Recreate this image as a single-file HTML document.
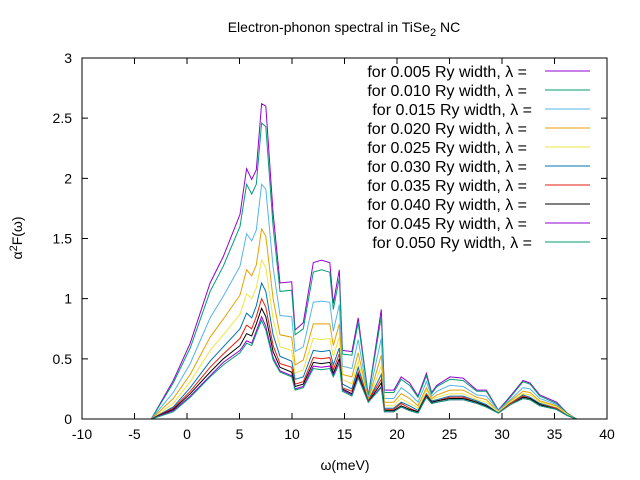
<!DOCTYPE html>
<html><head><meta charset="utf-8"><style>
html,body{margin:0;padding:0;background:#fff;}
svg{display:block;font-family:"Liberation Sans",sans-serif;}
</style></head><body>
<svg id="chart" width="640" height="480" viewBox="0 0 640 480" xmlns="http://www.w3.org/2000/svg">
<rect width="640" height="480" fill="#fff"/>
<text x="344" y="32" font-size="14" text-anchor="middle">Electron-phonon spectral in TiSe<tspan font-size="11" dy="4">2</tspan><tspan dy="-4"> NC</tspan></text>
<text x="345" y="470" font-size="14" text-anchor="middle">ω(meV)</text>
<text transform="translate(22,238) rotate(-90)" font-size="14" text-anchor="middle">α<tspan font-size="11" dy="-5">2</tspan><tspan dy="5">F(ω)</tspan></text>
<g id="axes"></g><g id="series"></g><g id="legend"></g>
<rect x="82" y="58" width="525" height="361" fill="none" stroke="#000" stroke-width="1"/>
</svg>
<script>
const xs=[-3.4,-1.3,0.3,2.2,3.46,5.05,5.68,6.16,6.6,7.1,7.5,8.2,8.86,9.97,10.3,11.08,12.03,12.8,13.6,13.93,14.5,14.8,15.7,16.3,17.27,18.5,18.8,19.7,20.4,21.2,22.0,22.8,23.3,23.8,25.05,26.3,27.6,28.5,29.65,30.8,32.0,32.67,33.6,35.2,36.2,37.1];
const s005=[0,.32,.63,1.13,1.35,1.70,2.08,1.99,2.07,2.62,2.60,1.71,1.13,1.14,.74,.80,1.30,1.32,1.30,.96,1.24,.57,.56,.84,.19,.91,.24,.24,.35,.30,.19,.38,.22,.28,.35,.34,.24,.24,.075,.19,.32,.30,.20,.14,.05,0];
const s010=[0,.30,.59,1.06,1.27,1.60,1.95,1.87,1.95,2.46,2.43,1.60,1.06,1.07,.70,.75,1.22,1.24,1.22,.91,1.17,.54,.53,.80,.19,.85,.22,.22,.33,.28,.18,.36,.21,.27,.33,.32,.23,.23,.07,.18,.31,.29,.19,.13,.05,0];
const s015=[0,.22,.46,.84,1.02,1.27,1.54,1.48,1.57,1.95,1.91,1.26,.86,.85,.56,.60,.97,.98,.97,.73,.95,.44,.42,.66,.17,.67,.17,.17,.26,.21,.14,.31,.19,.23,.28,.27,.20,.19,.07,.16,.26,.25,.17,.12,.04,0];
const s020=[0,.17,.37,.68,.83,1.03,1.24,1.19,1.28,1.58,1.52,1.00,.70,.68,.45,.49,.79,.79,.79,.61,.79,.37,.35,.55,.16,.53,.14,.14,.21,.17,.11,.26,.17,.20,.24,.24,.18,.16,.06,.15,.23,.22,.15,.11,.04,0];
const s025=[0,.13,.31,.57,.70,.87,1.04,1.00,1.09,1.32,1.26,.83,.60,.57,.38,.41,.67,.66,.67,.52,.68,.33,.29,.48,.15,.44,.11,.11,.17,.13,.09,.24,.16,.18,.21,.21,.16,.14,.06,.14,.21,.20,.14,.10,.04,0];
const s030=[0,.10,.26,.48,.60,.75,.88,.84,.94,1.13,1.06,.70,.52,.48,.33,.35,.57,.56,.57,.45,.59,.29,.25,.43,.15,.37,.09,.09,.14,.11,.07,.21,.15,.16,.19,.19,.15,.12,.05,.13,.20,.18,.13,.09,.03,0];
const s035=[0,.09,.23,.43,.54,.67,.78,.75,.85,1.00,.93,.61,.46,.43,.29,.31,.51,.50,.51,.41,.54,.26,.23,.39,.15,.33,.08,.08,.13,.09,.06,.20,.14,.15,.18,.18,.14,.11,.05,.13,.19,.17,.12,.09,.03,0];
const s040=[0,.08,.21,.39,.50,.61,.71,.69,.79,.92,.85,.56,.43,.39,.27,.29,.47,.46,.47,.38,.50,.25,.21,.37,.14,.30,.07,.07,.11,.08,.06,.19,.14,.15,.17,.17,.14,.11,.05,.12,.18,.17,.12,.08,.03,0];
const s045=[0,.07,.19,.36,.47,.57,.65,.63,.73,.85,.77,.51,.40,.36,.25,.27,.44,.43,.44,.36,.47,.24,.20,.35,.14,.27,.06,.06,.10,.07,.05,.18,.13,.14,.16,.16,.13,.10,.05,.12,.17,.16,.11,.08,.03,0];
const s050=[0,.06,.18,.35,.45,.55,.63,.61,.71,.82,.74,.49,.39,.35,.24,.26,.42,.41,.42,.35,.46,.23,.19,.34,.14,.26,.06,.06,.10,.07,.05,.18,.13,.14,.16,.16,.13,.10,.05,.12,.17,.16,.11,.08,.03,0];
const seriesNames=["0.005","0.010","0.015","0.020","0.025","0.030","0.035","0.040","0.045","0.050"];
const seriesVals=[s005,s010,s015,s020,s025,s030,s035,s040,s045,s050];
const xTicks=[-10,-5,0,5,10,15,20,25,30,35,40];
const yTicks=[0,0.5,1,1.5,2,2.5,3];
const yTickLabels=["0","0.5","1","1.5","2","2.5","3"];
const colors=["#9400d3","#009e73","#56b4e9","#e69f00","#f0e442","#0072b2","#e51e10","#000000","#9400d3","#009e73"];
const X0=82,X1=607,Y0=419,Y1=58;
const sx=v=>X0+(v+10)/50*(X1-X0);
const sy=v=>Y0-v/3*(Y0-Y1);
const NS="http://www.w3.org/2000/svg";
function mk(t,a){const e=document.createElementNS(NS,t);for(const k in a)e.setAttribute(k,a[k]);return e;}
const axes=document.getElementById('axes');
xTicks.forEach(t=>{
  const x=sx(t);
  const l=mk('path',{d:`M${x},${Y0}v-6M${x},${Y1}v6`,stroke:'#000','stroke-width':1});
  
  
  axes.appendChild(l);
  const tx=mk('text',{x:x,y:Y0+20,'font-size':14,'text-anchor':'middle'});
  tx.textContent=String(t);
  
  
  axes.appendChild(tx);
});
yTicks.forEach((t,i)=>{
  const y=sy(t);
  const l=mk('path',{d:`M${X0},${y}h6M${X1},${y}h-6`,stroke:'#000','stroke-width':1});
  
  
  axes.appendChild(l);
  const tx=mk('text',{x:X0-10,y:y+5,'font-size':14,'text-anchor':'end'});
  tx.textContent=yTickLabels[i];
  
  
  axes.appendChild(tx);
});
const sg=document.getElementById('series');
const lg=document.getElementById('legend');
seriesVals.forEach((vals,i)=>{
  const d=vals.map((v,j)=>(j?'L':'M')+sx(xs[j]).toFixed(1)+','+sy(v).toFixed(1)).join('');
  const p=mk('path',{d:d,fill:'none',stroke:colors[i],'stroke-width':1});
  
  
  sg.appendChild(p);
  const y=71+i*19;
  const shift=(i===2||i===9)?5:0;
  const t=mk('text',{x:527+shift,y:y+6,'font-size':16,'text-anchor':'end','xml:space':'preserve'});
  t.textContent='for '+seriesNames[i]+' Ry width,'+(i===0?'  ':' ')+'λ =';
  
  
  lg.appendChild(t);
  const ln=mk('line',{x1:545,x2:590,y1:y,y2:y,stroke:colors[i],'stroke-width':1});
  
  
  lg.appendChild(ln);
});
</script>
</body></html>
